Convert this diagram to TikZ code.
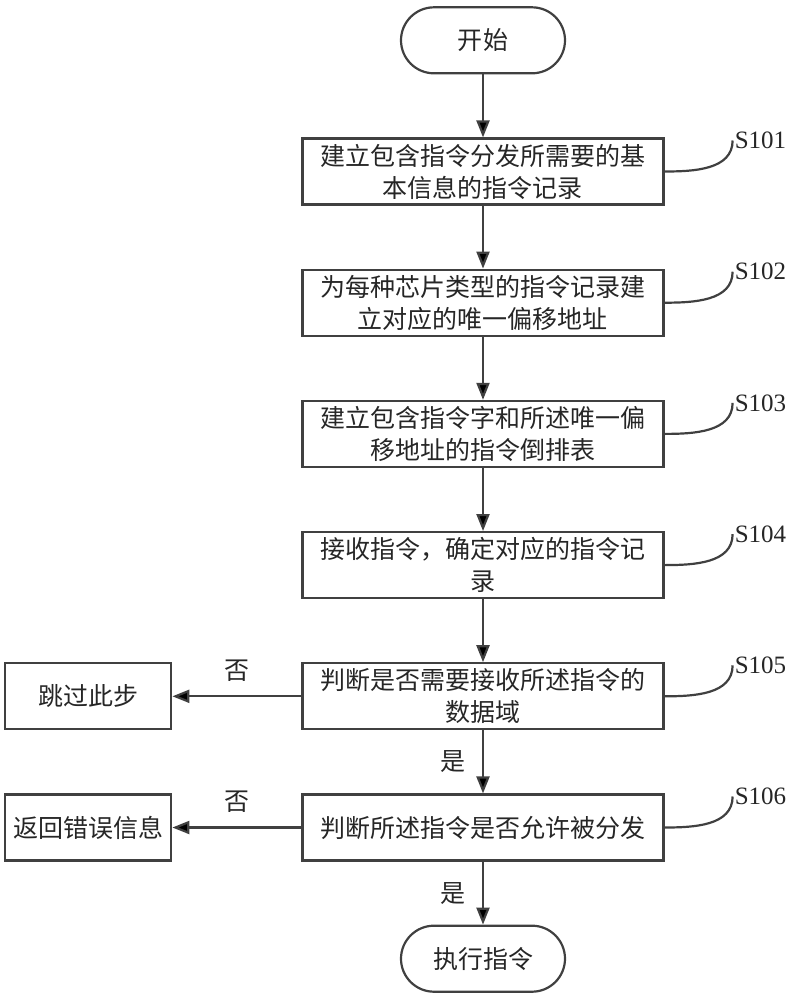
\documentclass[tikz,border=0pt]{standalone}
\usepackage{fontspec}
\newfontfamily\cjk{Noto Sans CJK SC}
\newfontfamily\serifnum{Liberation Serif}
\usetikzlibrary{matrix,arrows.meta}

\tikzset{
  stepbox/.style={draw=black!75, line width=2.2pt, minimum width=361pt, minimum height=66pt,
    text width=345pt, align=center, inner sep=3pt, text=black!85, anchor=center,
    font=\cjk\fontsize{25}{32}\selectfont},
  sidebox/.style={stepbox, minimum width=166pt, text width=158pt},
  term/.style={stepbox, minimum width=164pt, text width=150pt, rounded corners=33pt},
  steplabel/.style={font=\serifnum\fontsize{25}{30}\selectfont, inner sep=2pt, text=black!85},
  flowarrow/.style={-{Triangle[length=17pt,width=13pt]}, draw=black!75, line width=2.2pt},
  answer/.style={font=\cjk\fontsize{25}{30}\selectfont, text=black!85, inner sep=2pt},
}

\begin{document}
\begin{tikzpicture}
\useasboundingbox (0,0) rectangle (791pt,-1000pt);
\matrix (flow) [row sep=63pt, column sep=129pt, inner sep=0pt, anchor=north west] at (4pt,-6pt)
{
	& \node[term] (start) {开始}; \\
	& \node[stepbox] (s101) {建立包含指令分发所需要的基\\本信息的指令记录}; \\
	& \node[stepbox] (s102) {为每种芯片类型的指令记录建\\立对应的唯一偏移地址}; \\
	& \node[stepbox] (s103) {建立包含指令字和所述唯一偏\\移地址的指令倒排表}; \\
	& \node[stepbox] (s104) {接收指令，确定对应的指令记\\录}; \\
	\node[sidebox] (skip) {跳过此步}; & \node[stepbox] (s105) {判断是否需要接收所述指令的\\数据域}; \\
	\node[sidebox] (err) {返回错误信息}; & \node[stepbox] (s106) {判断所述指令是否允许被分发}; \\
	& \node[term] (finish) {执行指令}; \\
};
\path[flowarrow]
(start) edge (s101)
(s101) edge (s102)
(s102) edge (s103)
(s103) edge (s104)
(s104) edge (s105)
(s105) edge node [answer, above=12pt] {否} (skip)
(s105) edge node [answer, left=14pt] {是} (s106)
(s106) edge node [answer, above=12pt] {否} (err)
(s106) edge node [answer, left=14pt] {是} (finish)
;
\foreach \n in {101,...,106}
{
	\node[steplabel, anchor=west] (t\n) at ([xshift=68pt,yshift=31pt]s\n.east) {S\n};
	\draw[draw=black!75, line width=2.2pt] (s\n.east) to[out=0,in=-90] (t\n.west);
}
\end{tikzpicture}
\end{document}
